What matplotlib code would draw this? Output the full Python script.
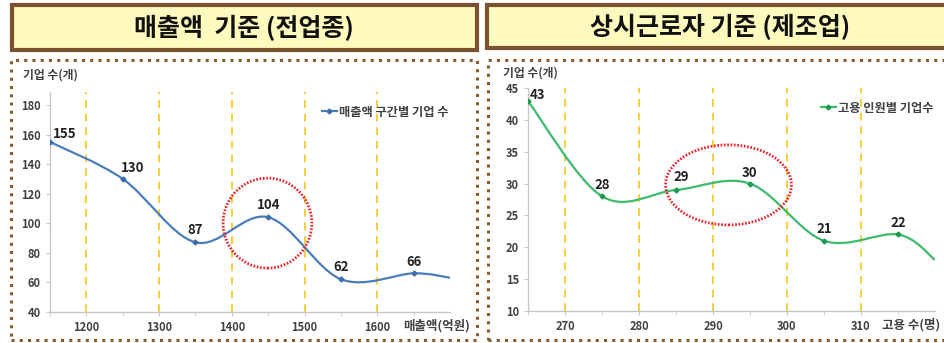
import matplotlib
matplotlib.use('Agg')
import matplotlib.pyplot as plt
from matplotlib.path import Path
from matplotlib.patches import PathPatch, Ellipse, Rectangle
from matplotlib.lines import Line2D
import numpy as np

plt.rcParams['font.family'] = ['Noto Sans CJK KR', 'DejaVu Sans']

# ---------------- data ----------------
left_title = '매출액  기준 (전업종)'
right_title = '상시근로자 기준 (제조업)'

sales_x = [1150, 1250, 1350, 1450, 1550, 1650, 1700]
sales_counts = [155, 130, 87, 104, 62, 66, 63]
sales_labels = ['155', '130', '87', '104', '62', '66', '']
sales_xticks = [1200, 1300, 1400, 1500, 1600]
sales_yticks = [40, 60, 80, 100, 120, 140, 160, 180]
sales_legend = '매출액 구간별 기업 수'
sales_xlabel = '매출액(억원)'

emp_x = [265, 275, 285, 295, 305, 315, 320]
emp_counts = [43, 28, 29, 30, 21, 22, 18]
emp_labels = ['43', '28', '29', '30', '21', '22', '']
emp_xticks = [270, 280, 290, 300, 310]
emp_yticks = [10, 15, 20, 25, 30, 35, 40, 45]
emp_legend = '고용 인원별 기업수'
emp_xlabel = '고용 수(명)'

ylabel = '기업 수(개)'

# ---------------- helpers ----------------
W, H = 945, 343


def fx(px):
    return px / W


def fy(py):
    return 1 - py / H


def smooth_path(xs, ys):
    pts = np.column_stack([np.asarray(xs, float), np.asarray(ys, float)])
    n = len(pts)
    verts = [pts[0]]
    codes = [Path.MOVETO]
    for i in range(n - 1):
        p0 = pts[i - 1] if i > 0 else pts[i]
        p1 = pts[i]
        p2 = pts[i + 1]
        p3 = pts[i + 2] if i + 2 < n else pts[i + 1]
        c1 = p1 + (p2 - p0) / 6.0
        c2 = p2 - (p3 - p1) / 6.0
        verts += [c1, c2, p2]
        codes += [Path.CURVE4] * 3
    return Path(verts, codes)


fig = plt.figure(figsize=(W / 100, H / 100), dpi=100)
fig.patch.set_facecolor('white')

brown = '#7A5230'
dot_brown = '#8B5A2B'
title_fill = '#FFFBBE'

# title boxes
for (x0, x1, y0, y1, t, cx) in [(12, 477, 5, 50, left_title, 244),
                                (487, 960, 5, 48, right_title, 720)]:
    r = Rectangle((fx(x0), fy(y1)), fx(x1) - fx(x0), fy(y0) - fy(y1),
                  transform=fig.transFigure, facecolor=title_fill,
                  edgecolor=brown, lw=3, clip_on=False)
    fig.add_artist(r)
    fig.text(fx(cx), fy((y0 + y1) / 2 + 1), t, ha='center', va='center',
             fontsize=18, fontweight='bold', color='#111111')

# dotted frames
for (x0, x1, y0, y1) in [(11, 477, 60, 340), (488, 965, 60, 340)]:
    r = Rectangle((fx(x0), fy(y1)), fx(x1) - fx(x0), fy(y0) - fy(y1),
                  transform=fig.transFigure, facecolor='none',
                  edgecolor=dot_brown, lw=2.2, linestyle=(0, (1, 1.7)),
                  clip_on=False)
    fig.add_artist(r)


def make_panel(rect, xs, ys, labels, xticks, yticks, xlim, ylim, color,
               mcolor, legend_text, legend_pos, xlabel, xlabel_off,
               ylabel_pos, label_offsets, ellipse):
    ax = fig.add_axes(rect)
    ax.set_facecolor('none')
    ax.set_xlim(*xlim)
    ax.set_ylim(*ylim)
    for s in ['top', 'right']:
        ax.spines[s].set_visible(False)
    for s in ['left', 'bottom']:
        ax.spines[s].set_color('#C8C8C8')
        ax.spines[s].set_linewidth(1.0)
    ax.set_xticks(xticks)
    ax.set_xticks(xs[:-1], minor=True)
    ax.set_yticks(yticks)
    ax.tick_params(axis='both', which='both', colors='#C8C8C8', length=3,
                   labelcolor='#404040', labelsize=8)
    ax.tick_params(axis='y', pad=3.5)
    ax.tick_params(axis='x', pad=4)
    for lab in ax.get_xticklabels() + ax.get_yticklabels():
        lab.set_fontweight('bold')
    ax.grid(axis='x', which='major', color='#F5CF3A', linestyle=(0, (4, 3)),
            lw=1.4)
    ax.set_axisbelow(True)

    patch = PathPatch(smooth_path(xs, ys), facecolor='none', edgecolor=color,
                      lw=1.6, zorder=3)
    ax.add_patch(patch)
    ax.plot(xs[:-1], ys[:-1], linestyle='none', marker='D', markersize=2.5,
            color=mcolor, zorder=4)

    for x, y, t, off in zip(xs, ys, labels, label_offsets):
        if t:
            ax.annotate(t, (x, y), xytext=off, textcoords='offset points',
                        ha='center', va='center', fontsize=9.5,
                        fontweight='bold', color='#222222', zorder=5)

    ex, ey, ew, eh = ellipse
    ax.add_patch(Ellipse((ex, ey), ew, eh, facecolor='none',
                         edgecolor='#E8242B', lw=2.0,
                         linestyle=(0, (0.6, 0.6)), zorder=6))

    h = Line2D([], [], color=color, lw=1.6, marker='D', markersize=2.5,
               markerfacecolor=mcolor, markeredgecolor=mcolor)
    leg = ax.legend([h], [legend_text], loc='center left',
                    bbox_to_anchor=legend_pos, frameon=False,
                    handlelength=1.2, handletextpad=0.2, borderpad=0,
                    borderaxespad=0,
                    prop={'size': 8.8, 'weight': 'bold'})
    for t in leg.get_texts():
        t.set_color('#404040')

    ax.annotate(xlabel, (1.0, 0), xycoords='axes fraction', xytext=xlabel_off,
                textcoords='offset points', ha='center', va='center',
                fontsize=9, fontweight='bold', color='#404040')
    fig.text(fx(ylabel_pos[0]), fy(ylabel_pos[1]), ylabel, ha='left',
             va='center', fontsize=8.5, fontweight='bold', color='#404040')
    return ax


# left panel
make_panel([fx(50), fy(311.7), fx(450) - fx(50), fy(91.8) - fy(311.7)],
           sales_x, sales_counts, sales_labels, sales_xticks, sales_yticks,
           (1150, 1700), (40, 189), '#4A7EBB', '#3C6DAA',
           sales_legend, (0.68, 0.908), sales_xlabel, (-9.5, -10), (23, 75),
           [(10.5, 5.5), (7, 8), (0, 9), (0, 8.5), (0, 9), (0, 8), (0, 0)],
           (1449, 100, 122, 61))

# right panel
make_panel([fx(528), fy(310.7), fx(935) - fx(528), fy(88.3) - fy(310.7)],
           emp_x, emp_counts, emp_labels, emp_xticks, emp_yticks,
           (265, 320), (10, 45), '#3DBB6A', '#1E9A4E',
           emp_legend, (0.72, 0.911), emp_xlabel, (-17, -10), (503, 73),
           [(7, 4.5), (0, 8.5), (4, 9), (0, 8), (0, 8.5), (0, 8.5), (0, 0)],
           (292.1, 29.8, 17, 12.6))

fig.savefig('out.png', dpi=100)
